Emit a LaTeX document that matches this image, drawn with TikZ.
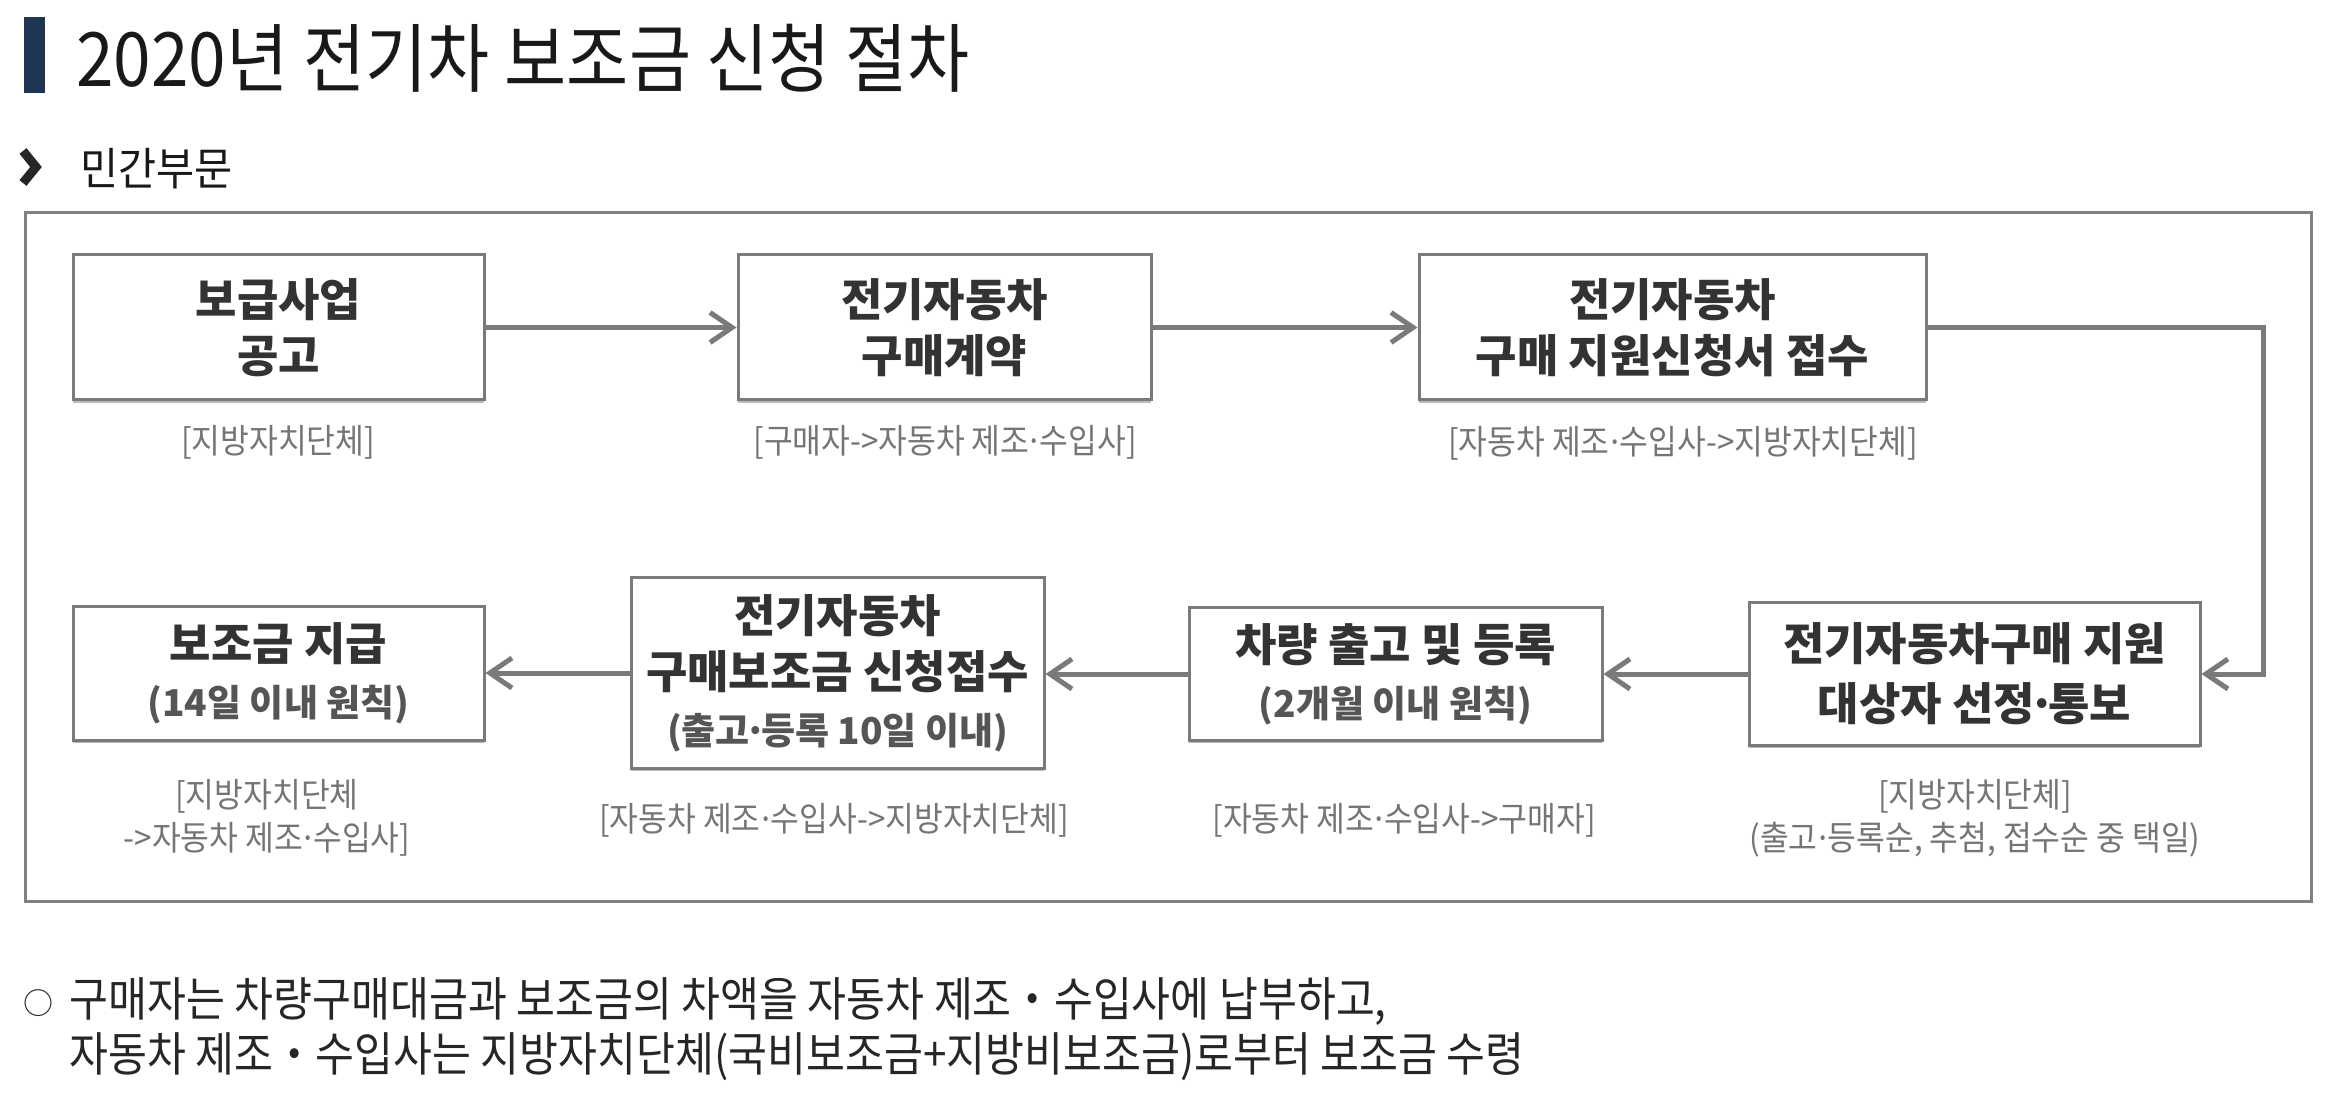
\documentclass[tikz,border=0pt]{standalone}
\usepackage{fontspec}
\setmainfont{Noto Sans CJK KR}
\newfontfamily\krc[FakeStretch=0.92]{Noto Sans CJK KR}
\newfontfamily\krt[FakeStretch=0.9]{Noto Sans CJK KR}
\usetikzlibrary{arrows.meta,shadows}
\definecolor{framegray}{HTML}{808080}
\definecolor{boxgray}{HTML}{7A7A7A}
\definecolor{arrowgray}{HTML}{7A7A7A}
\definecolor{boxtext}{HTML}{333333}
\definecolor{subtext}{HTML}{555555}
\definecolor{labeltext}{HTML}{757575}
\definecolor{barnavy}{HTML}{1E3653}
\newcommand{\dotc}{\makebox[0.3em][c]{·}}
\tikzset{
  stepbox/.style={draw=boxgray, line width=1.5pt, fill=white, inner sep=0pt,
    align=center, text=boxtext, font=\bfseries\fontsize{22.5}{28}\selectfont,
    drop shadow={shadow xshift=0pt, shadow yshift=-1.3pt, fill=black!30, opacity=0.9}},
  flow/.style={draw=arrowgray, line width=2.5pt,
    -{Straight Barb[length=11pt,width=15pt,line width=2.5pt]}},
  lbl/.style={text=labeltext, align=center, inner sep=0pt,
    font=\krc\fontsize{17}{21.5}\selectfont},
}
\newcommand{\sub}[1]{{\color{subtext}\fontsize{18.5}{28}\selectfont #1}}
\begin{document}
\begin{tikzpicture}[x=0.5pt,y=-0.5pt]
\useasboundingbox (0,0) rectangle (2332,1095);
\fill[white] (0,0) rectangle (2332,1095);

% title
\fill[barnavy] (24,17) rectangle (45,93);
\node[anchor=west, inner sep=0pt, font=\krt\fontsize{37.5}{44}\selectfont, text=black!90] (title) at (76,58) {2020년 전기차 보조금 신청 절차};

% sub heading
\draw[black!85, line width=4.5pt, line join=miter] (23,151) -- (36,167) -- (23,183);
\node[anchor=west, inner sep=0pt, font=\krc\fontsize{22.5}{26}\selectfont, text=black!90] (subhead) at (80,169) {민간부문};

% frame
\draw[framegray, line width=1.5pt] (25,213) rectangle (2311,901);

% top row
\node[stepbox, minimum width=205.5pt, minimum height=72.5pt] (b1) at (278.5,327.5) {보급사업\\공고};
\node[stepbox, minimum width=206.5pt, minimum height=72.5pt] (b2) at (944.5,327.5) {전기자동차\\구매계약};
\node[stepbox, minimum width=253.5pt, minimum height=72.5pt] (b3) at (1672.5,327.5) {전기자동차\\구매 지원신청서 접수};

% bottom row
\node[stepbox, minimum width=225.5pt, minimum height=71pt] (b4) at (1974.5,674) {전기자동차구매 지원\\[2pt]대상자 선정\dotc 통보};
\node[stepbox, minimum width=206.5pt, minimum height=66pt] (b5) at (1395.5,674) {차량 출고 및 등록\\\sub{(2개월 이내 원칙)}};
\node[stepbox, minimum width=206.5pt, minimum height=95pt] (b7) at (837.5,673) {전기자동차\\구매보조금 신청접수\\\sub{(출고\dotc 등록 10일 이내)}};
\node[stepbox, minimum width=205.5pt, minimum height=66.5pt] (b6) at (278.5,673.5) {보조금 지급\\\sub{(14일 이내 원칙)}};

% labels
\node[lbl] (l1) at (278,442) {[지방자치단체]};
\node[lbl] (l2) at (945,442) {[구매자->자동차 제조\dotc 수입사]};
\node[lbl] (l3) at (1683,443) {[자동차 제조\dotc 수입사->지방자치단체]};
\node[lbl] (l4) at (1975,818) {[지방자치단체]\\(출고\dotc 등록순, 추첨, 접수순 중 택일)};
\node[lbl] (l5) at (1404,820) {[자동차 제조\dotc 수입사->구매자]};
\node[lbl] (l7) at (834,820) {[자동차 제조\dotc 수입사->지방자치단체]};
\node[lbl] (l6) at (267,818) {[지방자치단체\\->자동차 제조\dotc 수입사]};

% connectors
\coordinate (turn) at (2263,328);
\draw[flow] (b1.east) -- (b2.west);
\draw[flow] (b2.east) -- (b3.west);
\draw[flow] (b3.east) -- (b3.east -| turn) |- (b4.east);
\draw[flow] (b4.west) -- (b4.west -| b5.east);
\draw[flow] (b5.west) -- (b5.west -| b7.east);
\draw[flow] (b7.west) -- (b7.west -| b6.east);

% notes
\node[anchor=center, inner sep=0pt, font=\fontsize{15}{17}\selectfont, text=black!85] (bullet) at (38,1003) {○};
\node[anchor=west, inner sep=0pt, font=\krt\fontsize{23.5}{28}\selectfont, text=black!85] (note1) at (69,1002) {구매자는 차량구매대금과 보조금의 차액을 자동차 제조・수입사에 납부하고,};
\node[anchor=west, inner sep=0pt, font=\krt\fontsize{23.5}{28}\selectfont, text=black!85] (note2) at (69,1057) {자동차 제조・수입사는 지방자치단체(국비보조금+지방비보조금)로부터 보조금 수령};
\end{tikzpicture}
\end{document}
